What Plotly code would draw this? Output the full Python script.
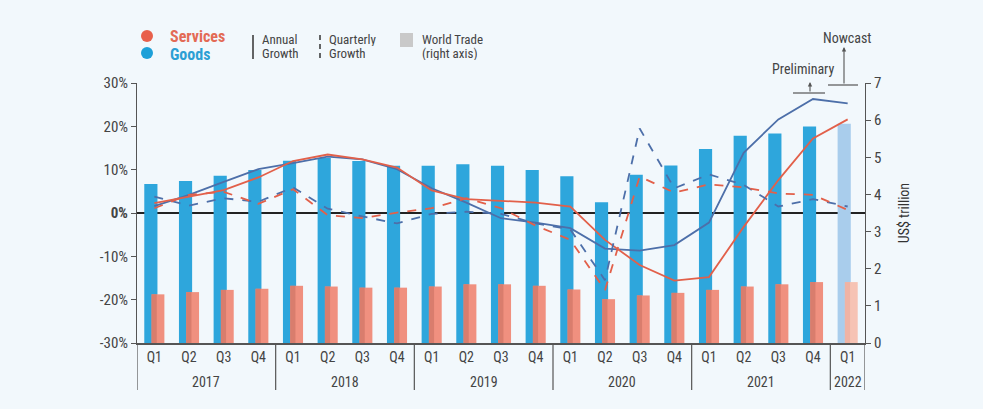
import plotly.graph_objects as go

years = ["2017"] * 4 + ["2018"] * 4 + ["2019"] * 4 + ["2020"] * 4 + ["2021"] * 4 + ["2022"]
quarters = ["Q1", "Q2", "Q3", "Q4"] * 5 + ["Q1"]

# World trade value, US$ trillion (right axis)
goods_value = [4.28, 4.36, 4.50, 4.66, 4.91, 4.98, 4.90, 4.77, 4.77, 4.81, 4.77, 4.66,
               4.49, 3.79, 4.53, 4.78, 5.22, 5.58, 5.64, 5.83, 5.90]
services_value = [1.31, 1.37, 1.43, 1.46, 1.54, 1.52, 1.49, 1.49, 1.52, 1.58, 1.58, 1.54,
                  1.44, 1.18, 1.28, 1.35, 1.43, 1.52, 1.58, 1.64, 1.64]

# Growth rates, % (left axis)
goods_annual = [1.6, 4.2, 7.2, 10.1, 11.5, 13.0, 12.4, 10.1, 5.7, 2.4, -1.2, -2.2,
                -3.5, -8.2, -8.7, -7.4, -2.2, 13.9, 21.6, 26.3, 25.3]
services_annual = [2.3, 3.8, 5.3, 8.2, 12.0, 13.5, 12.4, 10.5, 5.2, 3.2, 2.8, 2.4,
                   1.5, -6.2, -12.0, -15.6, -14.8, -3.2, 7.6, 17.2, 21.6]
goods_quarterly = [3.8, 1.7, 3.4, 2.6, 5.9, 1.0, -0.8, -2.4, -0.2, 0.3, -0.2, -2.4,
                   -3.8, -15.5, 19.5, 5.7, 8.9, 6.5, 1.5, 3.2, 1.5]
services_quarterly = [1.1, 4.2, 4.9, 2.1, 5.5, -0.5, -1.2, 0.1, 1.1, 3.4, 1.1, -2.9,
                      -6.2, -17.8, 8.4, 4.7, 6.6, 5.9, 4.5, 4.2, 0.7]

x = [f"{y} {q}" for y, q in zip(years, quarters)]
n = len(x)

GOODS_BAR = ["#2ea6dc"] * (n - 1) + ["#a9cdec"]
SERV_BAR = ["#f0907f"] * (n - 1) + ["#f6c3b4"]
SERV_SHADE = ["#d97d6d"] * (n - 1) + ["#efb3a4"]
GOODS_LINE = "#4d6fa9"
SERV_LINE = "#e2604a"
BG = "#f2f8fc"
AXIS = "#555555"
FONT = "Liberation Sans Narrow, Roboto Condensed, Arial Narrow, Roboto, sans-serif"

fig = go.Figure()
fig.add_trace(go.Bar(x=x, y=goods_value, yaxis="y", marker=dict(color=GOODS_BAR, line_width=0),
                     offset=-0.29, width=0.38, showlegend=False, hoverinfo="skip"))
fig.add_trace(go.Bar(x=x, y=services_value, yaxis="y", marker=dict(color=SERV_BAR, line_width=0),
                     offset=-0.08, width=0.37, showlegend=False, hoverinfo="skip"))
fig.add_trace(go.Bar(x=x, y=services_value, yaxis="y", marker=dict(color=SERV_SHADE, line_width=0),
                     offset=-0.08, width=0.15, showlegend=False, hoverinfo="skip"))

fig.add_trace(go.Scatter(x=x, y=goods_annual, yaxis="y2", mode="lines",
                         line=dict(color=GOODS_LINE, width=1.8), showlegend=False))
fig.add_trace(go.Scatter(x=x, y=services_annual, yaxis="y2", mode="lines",
                         line=dict(color=SERV_LINE, width=1.8), showlegend=False))
fig.add_trace(go.Scatter(x=x, y=goods_quarterly, yaxis="y2", mode="lines",
                         line=dict(color=GOODS_LINE, width=1.8, dash="dash"), showlegend=False))
fig.add_trace(go.Scatter(x=x, y=services_quarterly, yaxis="y2", mode="lines",
                         line=dict(color=SERV_LINE, width=1.8, dash="dash"), showlegend=False))

L, R, T, B = 137, 865, 83, 343
W, H = R - L, B - T


def px(v):
    return (v - L) / W


def py(v):
    return (B - v) / H


left_ticks = [-30, -20, -10, 0, 10, 20, 30]
left_text = ["-30%", "-20%", "-10%", "<b>0%</b>", "10%", "20%", "30%"]

fig.update_layout(
    width=983, height=409,
    margin=dict(l=L, r=983 - R, t=T, b=409 - B),
    paper_bgcolor=BG, plot_bgcolor=BG,
    barmode="overlay",
    font=dict(family=FONT, size=14, color="#444444"),
    xaxis=dict(type="category", range=[-0.5, n - 0.5], tickvals=x, ticktext=quarters,
               showline=True, linecolor=AXIS, linewidth=1.5, ticks="", showgrid=False,
               tickfont=dict(size=14, color="#444444")),
    yaxis=dict(side="right", range=[0, 7], dtick=1, showgrid=False, zeroline=False,
               showline=True, linecolor=AXIS, linewidth=1.2, ticks="outside", ticklen=5,
               tickcolor=AXIS, tickfont=dict(size=15, color="#444444"),
               title=dict(text="US$ trillion", font=dict(size=14, color="#333333"), standoff=18)),
    yaxis2=dict(overlaying="y", side="left", range=[-30, 30], tickvals=left_ticks, ticktext=left_text,
                showgrid=False, zeroline=True, zerolinecolor="#222222", zerolinewidth=1.5,
                showline=True, linecolor=AXIS, linewidth=1.2, ticks="outside", ticklen=5,
                tickcolor=AXIS, tickfont=dict(size=15, color="#444444")),
)

shapes = []
annotations = []

# Year group labels and dividers
groups = []
for i, yv in enumerate(years):
    if not groups or groups[-1][0] != yv:
        groups.append([yv, i, i])
    else:
        groups[-1][2] = i
for yv, i0, i1 in groups:
    annotations.append(dict(text=yv, x=(i0 + i1) / 2, xref="x", y=py(382), yanchor="middle",
                            font=dict(size=14, color="#444444")))
    shapes.append(dict(type="line", xref="x", yref="paper", x0=i0 - 0.5, x1=i0 - 0.5, y0=0, y1=py(390),
                       line=dict(color=AXIS, width=1.2)))
shapes.append(dict(type="line", xref="x", yref="paper", x0=n - 0.5, x1=n - 0.5, y0=0, y1=py(390),
                   line=dict(color=AXIS, width=1.2)))

# Legend: circles and labels
shapes.append(dict(type="circle", xref="paper", yref="paper", x0=px(141), x1=px(153), y0=py(42), y1=py(30),
                   fillcolor="#e8604c", line_width=0))
shapes.append(dict(type="circle", xref="paper", yref="paper", x0=px(141), x1=px(153), y0=py(59), y1=py(47),
                   fillcolor="#1ea0d8", line_width=0))
annotations.append(dict(text="<b>Services</b>", x=px(168), y=py(36), xanchor="left", yanchor="middle",
                        height=16, font=dict(size=16, color="#e36a55")))
annotations.append(dict(text="<b>Goods</b>", x=px(168), y=py(54), xanchor="left", yanchor="middle",
                        height=16, font=dict(size=16, color="#2c9fd4")))


def two_line(x0, top, bottom):
    annotations.append(dict(text=top, x=px(x0), y=py(39), xanchor="left", yanchor="middle",
                            height=14, font=dict(size=13, color="#444444")))
    annotations.append(dict(text=bottom, x=px(x0), y=py(53), xanchor="left", yanchor="middle",
                            height=14, font=dict(size=13, color="#444444")))


# Annual growth
shapes.append(dict(type="line", xref="paper", yref="paper", x0=px(253), x1=px(253), y0=py(35), y1=py(59),
                   line=dict(color="#333333", width=1.5)))
two_line(260, "Annual", "Growth")
# Quarterly growth
shapes.append(dict(type="line", xref="paper", yref="paper", x0=px(320), x1=px(320), y0=py(35), y1=py(59),
                   line=dict(color="#333333", width=1.5, dash="5px,4px")))
two_line(327, "Quarterly", "Growth")
# World trade box
shapes.append(dict(type="rect", xref="paper", yref="paper", x0=px(400), x1=px(413), y0=py(47), y1=py(33),
                   fillcolor="#c9c9c9", line_width=0))
two_line(420, "World Trade", "(right axis)")

# Preliminary / Nowcast markers
shapes.append(dict(type="line", xref="paper", yref="paper", x0=px(793), x1=px(825), y0=py(93), y1=py(93),
                   line=dict(color="#555555", width=1.2)))
shapes.append(dict(type="line", xref="paper", yref="paper", x0=px(828), x1=px(858), y0=py(85), y1=py(85),
                   line=dict(color="#555555", width=1.2)))
annotations.append(dict(text="", x=px(810), y=py(82), ax=0, ay=11, showarrow=True, arrowhead=2,
                        arrowsize=0.8, arrowwidth=1.1, arrowcolor="#555555"))
annotations.append(dict(text="", x=px(844), y=py(47), ax=0, ay=38, showarrow=True, arrowhead=2,
                        arrowsize=0.8, arrowwidth=1.1, arrowcolor="#555555"))
annotations.append(dict(text="Preliminary", x=px(803), y=py(69), xanchor="center", yanchor="middle",
                        font=dict(size=14, color="#444444")))
annotations.append(dict(text="Nowcast", x=px(847), y=py(38), xanchor="center", yanchor="middle",
                        font=dict(size=14, color="#444444")))

for a in annotations:
    a.setdefault("xref", "paper")
    a.setdefault("yref", "paper")
    a.setdefault("showarrow", False)

fig.update_layout(shapes=shapes, annotations=annotations)

fig.write_html("out.html", config={"displayModeBar": False},
               post_script="document.body.style.margin='0';")
